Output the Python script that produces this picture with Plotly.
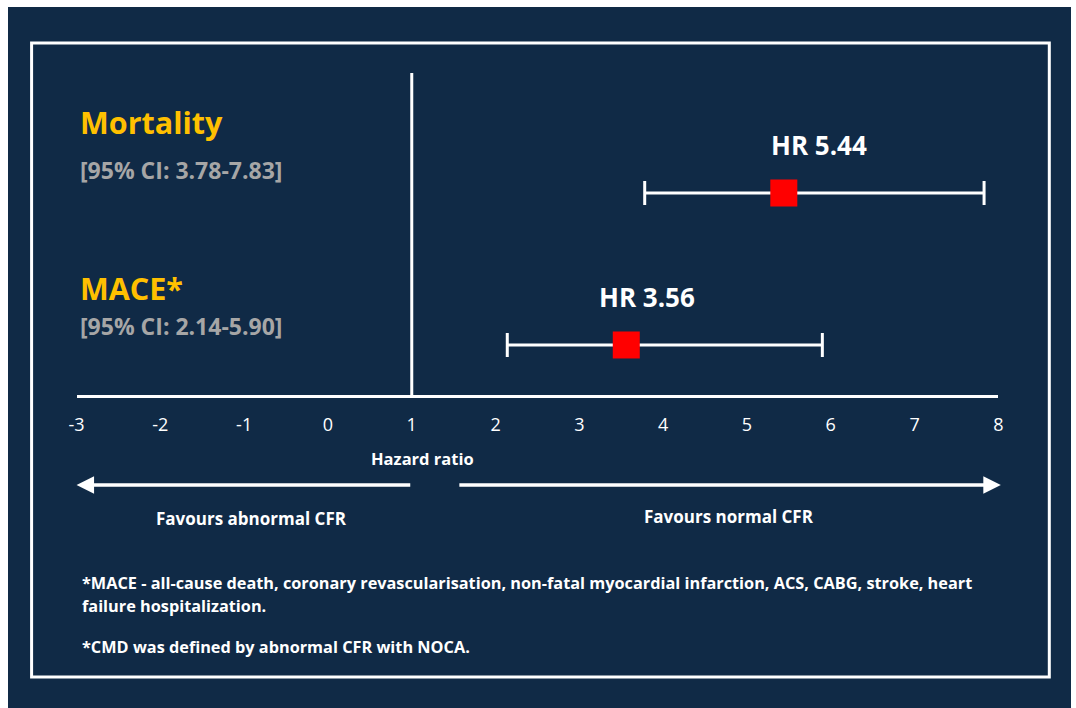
import plotly.graph_objects as go

# Forest plot data
outcomes = ["Mortality", "MACE*"]
hr = [5.44, 3.56]
ci_low = [3.78, 2.14]
ci_high = [7.83, 5.90]
row = [0, 1]
tick_vals = list(range(-3, 9))

W, H = 1076, 708
NAVY = "#102a46"
GOLD = "#ffc000"
GREY = "#a6a6a6"
FONT = "Open Sans"

# horizontal placement of the drawing inside the page
OX, SPAN = 7.4, 1063.3


def px_y(py):
    return 1 - py / H


def px_x(px):
    return (px - OX) / SPAN


def label(x, y, text, size, color="white", xanchor="center"):
    fig.add_annotation(
        x=px_x(x), y=px_y(y), xref="paper", yref="paper",
        xanchor=xanchor, yanchor="middle", text=text, showarrow=False,
        font=dict(family=FONT, size=size, color=color),
    )


fig = go.Figure()

fig.add_trace(go.Scatter(
    x=hr, y=row, mode="markers",
    marker=dict(symbol="square", size=27, color="#ff0000", line=dict(width=0)),
    error_x=dict(
        type="data", symmetric=False,
        array=[h - m for h, m in zip(ci_high, hr)],
        arrayminus=[m - l for m, l in zip(hr, ci_low)],
        color="white", thickness=3, width=12,
    ),
    hoverinfo="skip", showlegend=False,
))

# HR labels above each estimate
label_shift = [35, 21]
for h, r, s in zip(hr, row, label_shift):
    fig.add_annotation(
        x=h, y=r, xref="x", yref="y", text=f"<b>HR {h:.2f}</b>",
        showarrow=False, xshift=s, yshift=48,
        font=dict(family=FONT, size=26, color="white"),
    )

# Outcome names and CIs on the left
name_y = [122, 288]
ci_y = [170, 326]
for name, lo, hi, ny, cy in zip(outcomes, ci_low, ci_high, name_y, ci_y):
    label(77, ny, f"<b>{name}</b>", 30.5, GOLD, "left")
    label(77, cy, f"<b>[95% CI: {lo:.2f}-{hi:.2f}]</b>", 23, GREY, "left")

# Line of no effect
fig.add_shape(type="line", xref="x", yref="y domain", x0=1, x1=1, y0=0, y1=1,
              line=dict(color="white", width=3))

# Axis title and direction arrows
label(422, 458, "<b>Hazard ratio</b>", 16.5)
arrow_y = px_y(485)
fig.add_annotation(
    x=-3, y=arrow_y, ax=1, ay=0, xref="x", yref="paper",
    axref="x", ayref="pixel", text="", showarrow=True,
    arrowhead=2, arrowsize=1, arrowwidth=3.5, arrowcolor="white",
)
fig.add_annotation(
    x=8.03, y=arrow_y, ax=1.55, ay=0, xref="x", yref="paper",
    axref="x", ayref="pixel", text="", showarrow=True,
    arrowhead=2, arrowsize=1, arrowwidth=3.5, arrowcolor="white",
)
label(251, 518, "<b>Favours abnormal CFR</b>", 17)
label(729, 516, "<b>Favours normal CFR</b>", 17)

# Footnotes
notes = [
    ("*MACE - all-cause death, coronary revascularisation, non-fatal myocardial "
     "infarction, ACS, CABG, stroke, heart", 583),
    ("failure hospitalization.", 606),
    ("*CMD was defined by abnormal CFR with NOCA.", 647),
]
for txt, ny in notes:
    label(79, ny, f"<b>{txt}</b>", 16.3, "white", "left")

# Navy panel (white strip along the top) and inner frame
fig.add_shape(type="rect", xref="paper", yref="paper", layer="below",
              x0=0, x1=1, y0=0, y1=px_y(7),
              fillcolor=NAVY, line=dict(width=0))
fig.add_shape(type="rect", xref="paper", yref="paper",
              x0=px_x(31), x1=px_x(1049), y0=px_y(677), y1=px_y(43),
              fillcolor="rgba(0,0,0,0)", line=dict(color="white", width=3))

fig.update_layout(
    width=W, height=H, margin=dict(l=0, r=0, t=0, b=0),
    paper_bgcolor="white", plot_bgcolor="rgba(0,0,0,0)",
    xaxis=dict(
        domain=[px_x(76), px_x(998)], range=[-3, 8],
        tickvals=tick_vals, ticktext=[str(v) for v in tick_vals],
        showgrid=False, zeroline=False, showline=True, linecolor="white",
        linewidth=3, ticks="", tickfont=dict(family=FONT, size=18, color="white"),
        ticklabelstandoff=11,
    ),
    yaxis=dict(
        domain=[px_y(395), px_y(73)], range=[1.329, -0.789],
        showgrid=False, zeroline=False, showline=False, showticklabels=False,
    ),
)

fig.write_html("out.html")
